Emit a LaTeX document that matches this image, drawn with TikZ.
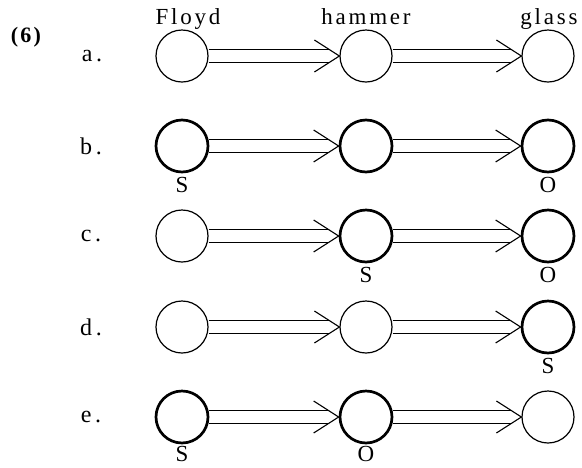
\documentclass[tikz,border=0pt]{standalone}
\usepackage{fontspec}
\setmainfont{Liberation Serif}
\newfontfamily\spaced[LetterSpace=12]{Liberation Serif}
\newfontfamily\spacedr[LetterSpace=15]{Liberation Serif}
\newfontfamily\spacedb[LetterSpace=10]{Liberation Serif}
\usetikzlibrary{calc}
\tikzset{
  thin circ/.style={circle, draw, line width=1.2pt, minimum size=52pt, inner sep=0pt},
  thick circ/.style={circle, draw, line width=2.7pt, minimum size=52pt, inner sep=0pt},
  toplabel/.style={font=\spaced\fontsize{23}{23}\selectfont, inner sep=0pt, anchor=base},
  rowlabel/.style={font=\spacedr\fontsize{24}{24}\selectfont, inner sep=0pt},
  rolelabel/.style={font=\fontsize{23}{23}\selectfont, inner sep=0pt, anchor=base},
  arrline/.style={line width=1.1pt}
}
\newcommand{\dblarrow}[2]{%
  \draw[arrline] ($(#1.east)+(0,-6.5)$) -- ($(#2.west)+(-10,-6.5)$);
  \draw[arrline] ($(#1.east)+(0,6.5)$) -- ($(#2.west)+(-10,6.5)$);
  \draw[arrline] ($(#2.west)+(-25,-16)$) -- (#2.west) -- ($(#2.west)+(-25,16)$);
}
\begin{document}
\begin{tikzpicture}[x=1pt,y=-1pt]
\useasboundingbox (0,0) rectangle (582,467);
\node[font=\spacedb\fontsize{22}{22}\selectfont\bfseries, inner sep=0pt] (num) at (26,37) {(6)};
\node[toplabel] (tF) at (188,24) {Floyd};
\node[toplabel] (tH) at (366,24) {hammer};
\node[toplabel] (tG) at (549,24) {glass};
% row a
\node[rowlabel] (la) at (92,56) {a.};
\node[thin circ] (a1) at (182,56) {};
\node[thin circ] (a2) at (366,56) {};
\node[thin circ] (a3) at (548,56) {};
\dblarrow{a1}{a2}\dblarrow{a2}{a3}
% row b
\node[rowlabel] (lb) at (91,146) {b.};
\node[thick circ] (b1) at (182,146) {};
\node[thick circ] (b2) at (366,146) {};
\node[thick circ] (b3) at (548,146) {};
\dblarrow{b1}{b2}\dblarrow{b2}{b3}
\node[rolelabel] (bS) at (182,192) {S};
\node[rolelabel] (bO) at (548,192) {O};
% row c
\node[rowlabel] (lc) at (91,236) {c.};
\node[thin circ] (c1) at (182,236) {};
\node[thick circ] (c2) at (366,236) {};
\node[thick circ] (c3) at (548,236) {};
\dblarrow{c1}{c2}\dblarrow{c2}{c3}
\node[rolelabel] (cS) at (366,282) {S};
\node[rolelabel] (cO) at (548,282) {O};
% row d
\node[rowlabel] (ld) at (91,327) {d.};
\node[thin circ] (d1) at (182,327) {};
\node[thin circ] (d2) at (366,327) {};
\node[thick circ] (d3) at (548,327) {};
\dblarrow{d1}{d2}\dblarrow{d2}{d3}
\node[rolelabel] (dS) at (548,373) {S};
% row e
\node[rowlabel] (le) at (91,417) {e.};
\node[thick circ] (e1) at (182,417) {};
\node[thick circ] (e2) at (366,417) {};
\node[thin circ] (e3) at (548,417) {};
\dblarrow{e1}{e2}\dblarrow{e2}{e3}
\node[rolelabel] (eS) at (182,461) {S};
\node[rolelabel] (eO) at (366,461) {O};
\end{tikzpicture}
\end{document}
